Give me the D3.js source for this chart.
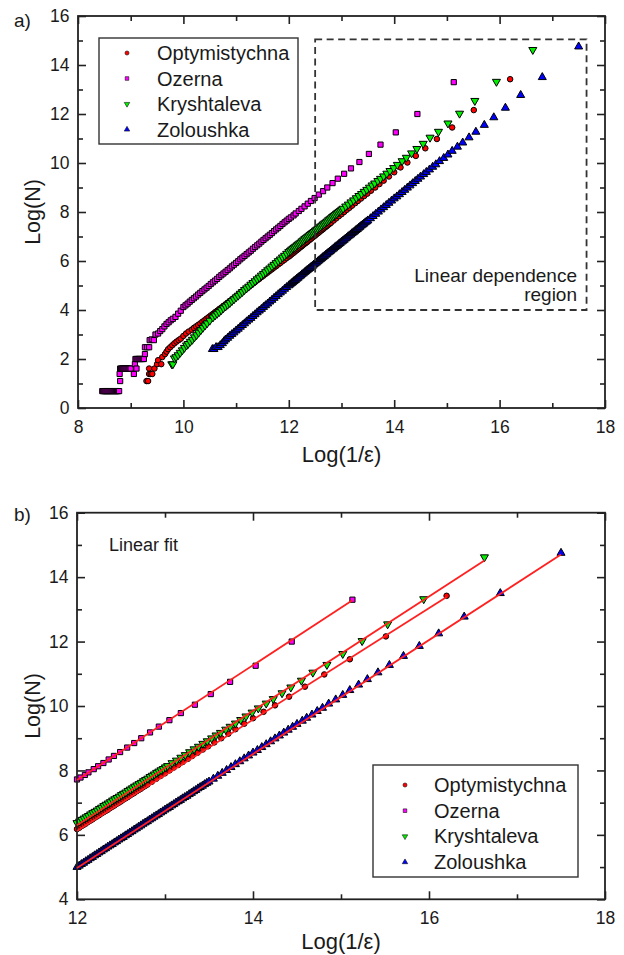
<!DOCTYPE html>
<html><head><meta charset="utf-8">
<script src="https://cdn.jsdelivr.net/npm/d3@7"></script>
<style>
body{margin:0;background:#fff;}
svg{display:block;}
text{font-family:"Liberation Sans",Arial,sans-serif;fill:#1a1a1a;}
</style>
</head><body>
<svg id="c" width="624" height="955"></svg>
<script>
// ---------------- DATA ----------------
const seriesNames = ["Optymistychna", "Ozerna", "Kryshtaleva", "Zoloushka"];
const seriesColors = ["#ff0000", "#ff00ff", "#00f000", "#0000ff"];
const seriesShapes = ["circle", "square", "triangleDown", "triangleUp"];

// Optymistychna: [Log(1/eps), Log(N)]
const optPts = [
 [16.20,13.42],[15.51,12.16],[15.10,11.45],[14.81,10.98],[14.59,10.60],[14.41,10.29],[14.25,10.02],[14.12,9.82],
 [14.00,9.62],[13.90,9.45],[13.80,9.28],[13.72,9.14],[13.64,9.00],[13.56,8.87],[13.49,8.75],[13.43,8.65],
 [13.37,8.55],[13.31,8.45],[13.26,8.36],[13.20,8.26],
 [13.15,8.17],[13.10,8.09],[13.05,8.00],[13.00,7.91],[12.95,7.83],[12.90,7.74],[12.85,7.65],[12.80,7.56],
 [12.75,7.48],[12.70,7.39],[12.65,7.30],[12.60,7.22],[12.55,7.13],[12.50,7.04],[12.45,6.96],[12.40,6.87],
 [12.35,6.78],[12.30,6.70],[12.25,6.61],[12.20,6.53],[12.15,6.44],[12.10,6.35],[12.05,6.27],[12.00,6.18],
 [12.025,6.22],[12.075,6.31],[12.125,6.40],[12.175,6.48],[12.225,6.57],[12.275,6.66],[12.325,6.74],[12.375,6.83],
 [12.425,6.91],[12.475,7.00],[12.525,7.09],[12.575,7.17],[12.625,7.26],[12.675,7.35],[12.725,7.43],[12.775,7.52],
 [11.92,6.05],[11.84,5.92],[11.76,5.79],[11.68,5.66],[11.60,5.53],[11.52,5.40],[11.44,5.27],[11.36,5.14],
 [11.28,5.01],[11.20,4.88],[11.12,4.75],[11.04,4.62],[10.96,4.49],[10.88,4.36],[10.80,4.23],[10.72,4.10],
 [10.64,3.97],[10.56,3.84],[10.48,3.71],[10.40,3.58],[10.32,3.45],[10.24,3.33],[10.16,3.20],[10.10,3.12],
 [11.96,6.12],[11.88,5.99],[11.80,5.86],[11.72,5.73],[11.64,5.60],[11.56,5.47],[11.48,5.34],[11.40,5.21],
 [11.32,5.08],[11.24,4.95],[11.16,4.82],[11.08,4.69],[11.00,4.56],[10.92,4.43],[10.84,4.30],[10.76,4.17],
 [10.68,4.04],[10.60,3.91],[10.52,3.78],[10.44,3.65],[10.36,3.52],[10.28,3.39],[10.20,3.27],
 [10.05,3.04],[10.00,2.94],[9.95,2.83],[9.91,2.77],[9.87,2.71],[9.83,2.64],[9.79,2.56],[9.75,2.48],
 [9.71,2.40],[9.68,2.30],[9.65,2.20],[9.60,2.08],[9.58,1.79],[9.52,1.95],[9.50,1.79],[9.45,1.61],
 [9.41,1.39],[9.38,1.39],[9.35,1.61],[9.35,1.39],[9.33,1.10],[9.30,1.10]
];
// Ozerna
const ozePts = [
 [15.13,13.30],[14.44,12.00],[14.03,11.25],[13.74,10.75],[13.52,10.37],[13.34,10.04],[13.18,9.78],[13.05,9.56],
 [12.93,9.36],[12.83,9.18],[12.73,9.00],[12.65,8.85],[12.57,8.71],[12.49,8.57],[12.42,8.45],[12.36,8.34],
 [12.30,8.23],[12.24,8.13],[12.19,8.04],[12.13,7.94],[12.09,7.86],[12.04,7.78],[12.00,7.72],
 [11.92,7.58],[11.84,7.43],[11.76,7.29],[11.68,7.14],[11.60,7.00],[11.52,6.86],[11.44,6.71],[11.36,6.57],
 [11.28,6.42],[11.20,6.28],[11.12,6.14],[11.04,5.99],[10.96,5.85],[10.88,5.70],[10.80,5.56],[10.72,5.42],
 [10.64,5.27],[10.56,5.13],[10.48,4.98],[10.40,4.84],[10.32,4.70],[10.24,4.55],[10.16,4.41],[10.08,4.26],
 [11.96,7.65],[11.88,7.51],[11.80,7.36],[11.72,7.22],[11.64,7.07],[11.56,6.93],[11.48,6.79],[11.40,6.64],
 [11.32,6.50],[11.24,6.35],[11.16,6.21],[11.08,6.07],[11.00,5.92],[10.92,5.78],[10.84,5.63],[10.76,5.49],
 [10.68,5.35],[10.60,5.20],[10.52,5.06],[10.44,4.91],[10.36,4.77],[10.28,4.63],[10.20,4.48],[10.12,4.34],
 [10.04,4.19],
 [10.00,4.12],[9.95,3.97],[9.90,3.85],[9.85,3.72],[9.80,3.64],[9.76,3.58],[9.72,3.50],[9.68,3.43],
 [9.64,3.33],[9.60,3.22],[9.56,3.14],[9.52,3.04],[9.47,3.00],[9.44,2.77],[9.40,2.80],[9.36,2.77],
 [9.35,2.48],[9.31,2.48],[9.27,2.48],[9.27,2.20],[9.25,2.00],[9.21,2.00],[9.17,2.00],[9.13,2.00],
 [9.09,2.00],[9.11,2.00],[9.15,2.00],[9.19,2.00],[9.23,2.00],
 [9.08,1.79],[9.11,1.61],[9.06,1.39],[9.00,1.61],[8.96,1.61],[8.92,1.61],[8.88,1.61],
 [8.84,1.61],[8.80,1.61],[8.82,1.61],[8.86,1.61],[8.90,1.61],[8.94,1.61],[8.98,1.61],
 [8.79,1.39],[8.80,1.10],[8.78,0.69],[8.74,0.69],[8.70,0.69],[8.66,0.69],
 [8.62,0.69],[8.58,0.69],[8.54,0.69],[8.50,0.69],[8.46,0.69],
 [8.48,0.69],[8.52,0.69],[8.56,0.69],[8.60,0.69],[8.64,0.69],[8.68,0.69],[8.72,0.69],[8.76,0.69]
];
// Kryshtaleva
const kryPts = [
 [16.63,14.62],[15.94,13.32],[15.53,12.54],[15.24,12.02],[15.02,11.62],[14.84,11.28],[14.68,11.04],[14.55,10.79],
 [14.43,10.58],[14.33,10.40],[14.23,10.22],[14.15,10.08],[14.06,9.93],[13.99,9.80],[13.92,9.68],[13.86,9.57],
 [13.80,9.46],[13.74,9.36],[13.69,9.27],[13.63,9.17],
 [13.58,9.09],[13.53,9.00],[13.48,8.91],[13.43,8.83],[13.38,8.74],[13.33,8.66],[13.28,8.57],[13.23,8.48],
 [13.18,8.40],[13.13,8.31],[13.08,8.23],[13.03,8.14],[12.98,8.05],[12.93,7.97],[12.88,7.88],[12.83,7.80],
 [12.78,7.71],[12.73,7.62],[12.68,7.54],[12.63,7.45],[12.58,7.37],[12.53,7.28],[12.48,7.19],[12.43,7.11],
 [12.38,7.02],[12.33,6.94],[12.28,6.85],[12.23,6.76],[12.18,6.68],[12.13,6.59],[12.08,6.51],[12.03,6.42],
 [12.00,6.37],
 [12.055,6.47],[12.105,6.55],[12.155,6.64],[12.205,6.72],[12.255,6.81],[12.305,6.90],[12.355,6.98],[12.405,7.07],
 [12.455,7.15],[12.505,7.24],[12.555,7.32],[12.605,7.41],[12.655,7.50],[12.705,7.58],[12.755,7.67],[12.805,7.75],
 [12.855,7.84],[12.905,7.93],[12.955,8.01],[13.005,8.10],
 [11.92,6.22],[11.84,6.07],[11.76,5.92],[11.68,5.78],[11.60,5.63],[11.52,5.48],[11.44,5.33],[11.36,5.18],
 [11.28,5.04],[11.20,4.89],[11.12,4.74],[11.04,4.59],[10.96,4.44],[10.88,4.29],[10.80,4.15],[10.72,4.00],
 [11.96,6.30],[11.88,6.15],[11.80,6.00],[11.72,5.85],[11.64,5.70],[11.56,5.55],[11.48,5.41],[11.40,5.26],
 [11.32,5.11],[11.24,4.96],[11.16,4.82],[11.08,4.67],[11.00,4.52],[10.92,4.37],[10.84,4.22],[10.76,4.08],
 [10.68,3.92],[10.64,3.85],[10.60,3.78],[10.56,3.70],[10.50,3.57],[10.45,3.46],[10.41,3.37],[10.37,3.28],
 [10.33,3.18],[10.29,3.08],[10.25,2.98],[10.21,2.89],[10.17,2.79],[10.13,2.71],[10.09,2.62],[10.06,2.56],
 [10.02,2.46],[9.98,2.36],[9.94,2.26],[9.90,2.16],[9.86,2.08],[9.83,2.03],[9.80,1.79],[9.78,1.79]
];
// Zoloushka
const zolPts = [
 [17.50,14.75],[16.81,13.50],[16.40,12.77],[16.11,12.25],[15.89,11.86],[15.71,11.55],[15.55,11.27],[15.42,11.04],
 [15.30,10.83],[15.20,10.66],[15.10,10.49],[15.02,10.34],[14.94,10.20],[14.86,10.07],[14.79,9.94],[14.73,9.84],
 [14.67,9.73],[14.61,9.63],[14.56,9.54],[14.50,9.44],
 [14.45,9.35],[14.40,9.26],[14.35,9.17],[14.30,9.08],[14.25,8.99],[14.20,8.90],[14.15,8.81],[14.10,8.72],
 [14.05,8.63],[14.00,8.55],[13.95,8.46],[13.90,8.37],[13.85,8.28],[13.80,8.19],[13.75,8.10],[13.70,8.01],
 [13.65,7.92],[13.60,7.83],[13.55,7.74],[13.50,7.65],[13.45,7.57],[13.40,7.48],[13.35,7.39],[13.30,7.30],
 [13.25,7.21],[13.20,7.13],[13.15,7.04],[13.10,6.95],[13.05,6.86],[13.00,6.78],[12.95,6.69],[12.90,6.60],
 [12.85,6.51],[12.80,6.42],[12.75,6.34],[12.70,6.25],[12.65,6.16],[12.60,6.07],[12.55,5.98],[12.50,5.89],
 [12.45,5.80],[12.40,5.71],[12.35,5.63],[12.30,5.54],[12.25,5.45],[12.20,5.36],[12.15,5.27],[12.10,5.18],
 [12.05,5.09],[12.00,5.00],
 [12.025,5.04],[12.075,5.13],[12.125,5.22],[12.175,5.31],[12.225,5.40],[12.275,5.49],[12.325,5.58],[12.375,5.67],
 [12.425,5.76],[12.475,5.85],[12.525,5.93],[12.575,6.02],[12.625,6.11],[12.675,6.20],[12.725,6.29],[12.775,6.38],
 [12.825,6.47],[12.875,6.56],[12.925,6.64],[12.975,6.73],[13.025,6.82],[13.075,6.91],[13.125,7.00],[13.175,7.08],
 [13.225,7.17],[13.275,7.26],[13.325,7.35],[13.375,7.44],[13.425,7.52],[13.475,7.61],
 [11.92,4.86],[11.84,4.71],[11.76,4.56],[11.68,4.41],[11.60,4.26],[11.52,4.12],[11.44,3.97],[11.36,3.82],
 [11.28,3.67],[11.20,3.53],[11.12,3.38],[11.04,3.23],[10.96,3.08],[10.88,2.94],[10.80,2.79],[10.74,2.64],
 [11.96,4.93],[11.88,4.78],[11.80,4.64],[11.72,4.49],[11.64,4.34],[11.56,4.19],[11.48,4.04],[11.40,3.90],
 [11.32,3.75],[11.24,3.60],[11.16,3.45],[11.08,3.31],[11.00,3.16],[10.92,3.01],[10.84,2.86],[10.77,2.72],
 [10.70,2.56],[10.66,2.48],[10.62,2.48],[10.58,2.40],[10.55,2.40]
];
const seriesPts = [optPts, ozePts, kryPts, zolPts];

// Linear fits (panel b)
const fitStart = [[12, 6.12], [12, 7.70], [12, 6.30], [12, 4.97]];
const fitEnd = [[16.20, 13.38], [15.13, 13.28], [16.63, 14.52], [17.50, 14.70]];

// Ticks
const xTicksA = [8, 10, 12, 14, 16, 18];
const xMinorA = [9, 11, 13, 15, 17];
const yTicksA = [0, 2, 4, 6, 8, 10, 12, 14, 16];
const yMinorA = [1, 3, 5, 7, 9, 11, 13, 15];
const xTicksB = [12, 14, 16, 18];
const xMinorB = [13, 15, 17];
const yTicksB = [4, 6, 8, 10, 12, 14, 16];
const yMinorB = [5, 7, 9, 11, 13, 15];

// Linear dependence region (panel a): [x0, x1, y0, y1]
const regionBox = [12.5, 17.65, 4.0, 15.05];

// ---------------- DRAW ----------------
const svg = d3.select("#c");
const FONT = '"Liberation Sans", Arial, sans-serif';
const AX = "#222";

function symPath(shape, area) {
  if (shape === "circle") return d3.symbol(d3.symbolCircle, area)();
  if (shape === "square") return d3.symbol(d3.symbolSquare, area)();
  return d3.symbol(d3.symbolTriangle, area)();
}
function symTransform(shape, px, py) {
  return shape === "triangleDown" ? `translate(${px},${py}) rotate(180)` : `translate(${px},${py})`;
}
const markerArea = {circle: 24, square: 27, triangleDown: 28, triangleUp: 28};

function panel(cfg) {
  const g = svg.append("g");
  const x = d3.scaleLinear().domain(cfg.xDom).range(cfg.xRange);
  const y = d3.scaleLinear().domain(cfg.yDom).range(cfg.yRange);
  const [xl, xr] = cfg.xRange, [yb, yt] = cfg.yRange;

  function styleAxis(sel) {
    sel.select(".domain").remove();
    sel.selectAll("line").attr("stroke", AX).attr("stroke-width", 1.6);
    sel.selectAll("text").attr("font-size", 17.5).attr("font-family", FONT).attr("fill", "#1a1a1a");
  }
  g.append("g").attr("transform", `translate(0,${yb})`)
    .call(d3.axisBottom(x).tickValues(cfg.xt).tickSize(-8).tickSizeOuter(0).tickPadding(12.5).tickFormat(d3.format("d"))).call(styleAxis);
  g.append("g").attr("transform", `translate(0,${yb})`)
    .call(d3.axisBottom(x).tickValues(cfg.xm).tickSize(-5).tickSizeOuter(0).tickFormat("")).call(styleAxis);
  g.append("g").attr("transform", `translate(0,${yt})`)
    .call(d3.axisTop(x).tickValues(cfg.xt).tickSize(-8).tickSizeOuter(0).tickFormat("")).call(styleAxis);
  g.append("g").attr("transform", `translate(0,${yt})`)
    .call(d3.axisTop(x).tickValues(cfg.xm).tickSize(-5).tickSizeOuter(0).tickFormat("")).call(styleAxis);
  g.append("g").attr("transform", `translate(${xl},0)`)
    .call(d3.axisLeft(y).tickValues(cfg.yt).tickSize(-8).tickSizeOuter(0).tickPadding(8.5).tickFormat(d3.format("d"))).call(styleAxis);
  g.append("g").attr("transform", `translate(${xl},0)`)
    .call(d3.axisLeft(y).tickValues(cfg.ym).tickSize(-5).tickSizeOuter(0).tickFormat("")).call(styleAxis);
  g.append("g").attr("transform", `translate(${xr},0)`)
    .call(d3.axisRight(y).tickValues(cfg.yt).tickSize(-8).tickSizeOuter(0).tickFormat("")).call(styleAxis);
  g.append("g").attr("transform", `translate(${xr},0)`)
    .call(d3.axisRight(y).tickValues(cfg.ym).tickSize(-5).tickSizeOuter(0).tickFormat("")).call(styleAxis);

  const pg = g.append("g");
  seriesPts.forEach((pts, i) => {
    const shape = seriesShapes[i];
    const data = pts.filter(d => d[0] >= cfg.xDom[0] - 0.001).slice().sort((a, b) => a[0] - b[0]);
    pg.append("g").selectAll("path").data(data).join("path")
      .attr("d", symPath(shape, markerArea[shape]))
      .attr("transform", d => symTransform(shape, x(d[0]), y(d[1])))
      .attr("fill", seriesColors[i]).attr("stroke", "#000").attr("stroke-width", 1.0);
  });

  g.append("rect").attr("x", xl).attr("y", yt).attr("width", xr - xl).attr("height", yb - yt)
    .attr("fill", "none").attr("stroke", AX).attr("stroke-width", 1.8);

  g.append("text").attr("x", (xl + xr) / 2).attr("y", cfg.xTitleY).attr("text-anchor", "middle")
    .attr("font-size", 22).text("Log(1/ε)");
  g.append("text").attr("transform", `translate(40,${(yb + yt) / 2}) rotate(-90)`).attr("text-anchor", "middle")
    .attr("font-size", 21.5).text("Log(N)");
  g.append("text").attr("x", 14).attr("y", cfg.tagY).attr("font-size", 19).text(cfg.tag);

  const L = cfg.legend;
  g.append("rect").attr("x", L.x).attr("y", L.y).attr("width", L.w).attr("height", L.h)
    .attr("fill", "#fff").attr("stroke", "#333").attr("stroke-width", 1.4);
  seriesNames.forEach((name, i) => {
    const cy = L.y + L.first + i * L.step;
    g.append("path").attr("d", symPath(seriesShapes[i], 13))
      .attr("transform", symTransform(seriesShapes[i], L.x + L.mx, cy))
      .attr("fill", seriesColors[i]).attr("stroke", "#111").attr("stroke-width", 0.6);
    g.append("text").attr("x", L.x + L.tx).attr("y", cy + 7).attr("font-size", 20).text(name);
  });
  return {g, x, y};
}

const A = panel({
  xDom: [8, 18], yDom: [0, 16], xRange: [78, 605], yRange: [408, 16],
  xt: xTicksA, xm: xMinorA, yt: yTicksA, ym: yMinorA,
  xTitleY: 462, tag: "a)", tagY: 27,
  legend: {x: 99, y: 38, w: 199, h: 106, first: 15, step: 25.5, mx: 28, tx: 58}
});
A.g.append("rect")
  .attr("x", A.x(regionBox[0])).attr("y", A.y(regionBox[3]))
  .attr("width", A.x(regionBox[1]) - A.x(regionBox[0])).attr("height", A.y(regionBox[2]) - A.y(regionBox[3]))
  .attr("fill", "none").attr("stroke", "#333").attr("stroke-width", 1.8).attr("stroke-dasharray", "7,4.5");
A.g.append("text").attr("x", 577).attr("y", 282).attr("text-anchor", "end").attr("font-size", 19).text("Linear dependence");
A.g.append("text").attr("x", 577).attr("y", 301).attr("text-anchor", "end").attr("font-size", 19).text("region");

const B = panel({
  xDom: [12, 18], yDom: [4, 16], xRange: [77, 605], yRange: [899.3, 512.7],
  xt: xTicksB, xm: xMinorB, yt: yTicksB, ym: yMinorB,
  xTitleY: 949, tag: "b)", tagY: 521,
  legend: {x: 373, y: 765, w: 205, h: 112, first: 20, step: 25.7, mx: 32, tx: 61}
});
const fitG = B.g.append("g");
fitStart.forEach((s, i) => {
  fitG.append("line")
    .attr("x1", B.x(s[0])).attr("y1", B.y(s[1]))
    .attr("x2", B.x(fitEnd[i][0])).attr("y2", B.y(fitEnd[i][1]))
    .attr("stroke", "#ff2020").attr("stroke-width", 1.8);
});
B.g.append("text").attr("x", 109).attr("y", 551).attr("font-size", 18).text("Linear fit");
</script>
</body></html>
